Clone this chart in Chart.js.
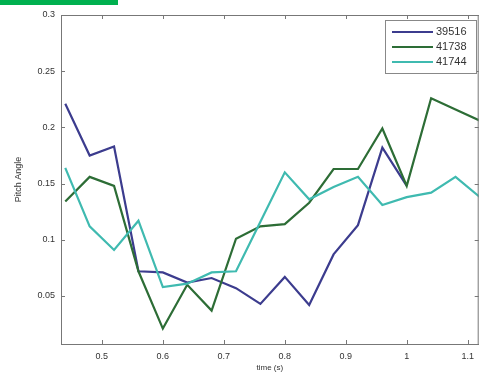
<!DOCTYPE html>
<html><head><meta charset="utf-8">
<script src="https://cdn.jsdelivr.net/npm/chart.js@4.4.0/dist/chart.umd.min.js"></script>
<style>
html,body{margin:0;padding:0;background:#fff;overflow:hidden;width:481px;height:374px}
canvas{position:absolute;left:0;top:0}
#bar{position:absolute;left:0;top:0;width:118px;height:5px;background:#00b04f}
</style></head>
<body>
<canvas id="c" width="481" height="374"></canvas>
<div id="bar"></div>
<script>
const times = [0.44,0.48,0.52,0.56,0.60,0.64,0.68,0.72,0.76,0.80,0.84,0.88,0.92,0.96,1.00,1.04,1.08,1.12];
const s39516 = [0.221,0.175,0.183,0.072,0.071,0.062,0.066,0.057,0.043,0.067,0.042,0.087,0.113,0.182,0.148];
const s41738 = [0.134,0.156,0.148,0.072,0.021,0.060,0.037,0.101,0.112,0.114,0.133,0.163,0.163,0.199,0.148,0.226,0.216,0.206];
const s41744 = [0.164,0.112,0.091,0.117,0.058,0.061,0.071,0.072,0.116,0.160,0.136,0.147,0.156,0.131,0.138,0.142,0.156,0.138];
const seriesNames = ['39516','41738','41744'];
const seriesColors = ['#3c3c8e','#2d6d36','#3fbab0'];
const xTicks = [0.5,0.6,0.7,0.8,0.9,1,1.1];
const yTicks = [0.05,0.1,0.15,0.2,0.25,0.3];

const allSeries = [s39516, s41738, s41744];
const datasets = allSeries.map((s, i) => ({
  label: seriesNames[i],
  data: s.map((v, j) => ({x: times[j], y: v})),
  borderColor: seriesColors[i],
  backgroundColor: seriesColors[i],
  borderWidth: 2.2,
  pointRadius: 0,
  tension: 0,
  fill: false,
  order: 3 - i
}));

const fmt = v => String(Number(v.toFixed(2)));
const FONT = '"Liberation Sans", Arial, sans-serif';
const TXT = '#333';

const framePlugin = {
  id: 'frame',
  afterDraw(chart) {
    const ctx = chart.ctx, a = chart.chartArea;
    const xs = chart.scales.x, ys = chart.scales.y;
    ctx.save();
    ctx.strokeStyle = '#777';
    ctx.lineWidth = 1;
    ctx.beginPath();
    ctx.moveTo(a.left, a.top + 0.5); ctx.lineTo(a.right, a.top + 0.5);
    ctx.moveTo(a.right - 0.5, a.top); ctx.lineTo(a.right - 0.5, a.bottom);
    xTicks.forEach(v => {
      const px = Math.round(xs.getPixelForValue(v)) + 0.5;
      ctx.moveTo(px, a.bottom); ctx.lineTo(px, a.bottom - 4);
      ctx.moveTo(px, a.top); ctx.lineTo(px, a.top + 4);
    });
    yTicks.forEach(v => {
      const py = Math.round(ys.getPixelForValue(v)) + 0.5;
      ctx.moveTo(a.left, py); ctx.lineTo(a.left + 4, py);
      ctx.moveTo(a.right, py); ctx.lineTo(a.right - 4, py);
    });
    ctx.stroke();
    // legend
    const lx = 385, ly = 20, lw = 91, lh = 53;
    ctx.fillStyle = '#fff';
    ctx.fillRect(lx, ly, lw, lh);
    ctx.strokeStyle = '#888';
    ctx.strokeRect(lx + 0.5, ly + 0.5, lw, lh);
    ctx.font = '11px ' + FONT;
    ctx.textBaseline = 'middle';
    ctx.textAlign = 'left';
    chart.data.datasets.forEach((d, i) => {
      const y = 32 + i * 15;
      ctx.strokeStyle = d.borderColor;
      ctx.lineWidth = 2;
      ctx.beginPath(); ctx.moveTo(392, y); ctx.lineTo(433, y); ctx.stroke();
      ctx.fillStyle = TXT;
      ctx.fillText(d.label, 436, y);
    });
    ctx.restore();
  }
};

new Chart(document.getElementById('c'), {
  type: 'line',
  data: {datasets},
  options: {
    responsive: false,
    animation: false,
    devicePixelRatio: 1,
    layout: {padding: {left: 0, top: 15, right: 1, bottom: 0}},
    plugins: {legend: {display: false}, tooltip: {enabled: false}},
    scales: {
      x: {
        type: 'linear', min: 0.433, max: 1.118,
        afterBuildTicks: s => { s.ticks = xTicks.map(v => ({value: v})); },
        afterFit: s => { s.height = 30; },
        grid: {display: false, drawTicks: false},
        border: {display: true, color: '#777', width: 1},
        ticks: {padding: 7, color: TXT, font: {size: 9, family: FONT}, callback: v => fmt(v), maxRotation: 0, autoSkip: false},
        title: {display: true, text: 'time (s)', color: TXT, font: {size: 8, family: FONT}, padding: {top: 0, bottom: 1}}
      },
      y: {
        type: 'linear', min: 0.0073, max: 0.3,
        afterBuildTicks: s => { s.ticks = yTicks.map(v => ({value: v})); },
        afterFit: s => { s.width = 61; },
        grid: {display: false, drawTicks: false},
        border: {display: true, color: '#777', width: 1},
        ticks: {padding: 6, color: TXT, font: {size: 9, family: FONT}, callback: v => fmt(v), autoSkip: false},
        title: {display: true, text: 'Pitch Angle', color: TXT, font: {size: 9, family: FONT}, padding: {top: 13, bottom: 0}}
      }
    }
  },
  plugins: [framePlugin]
});
</script>
</body></html>
